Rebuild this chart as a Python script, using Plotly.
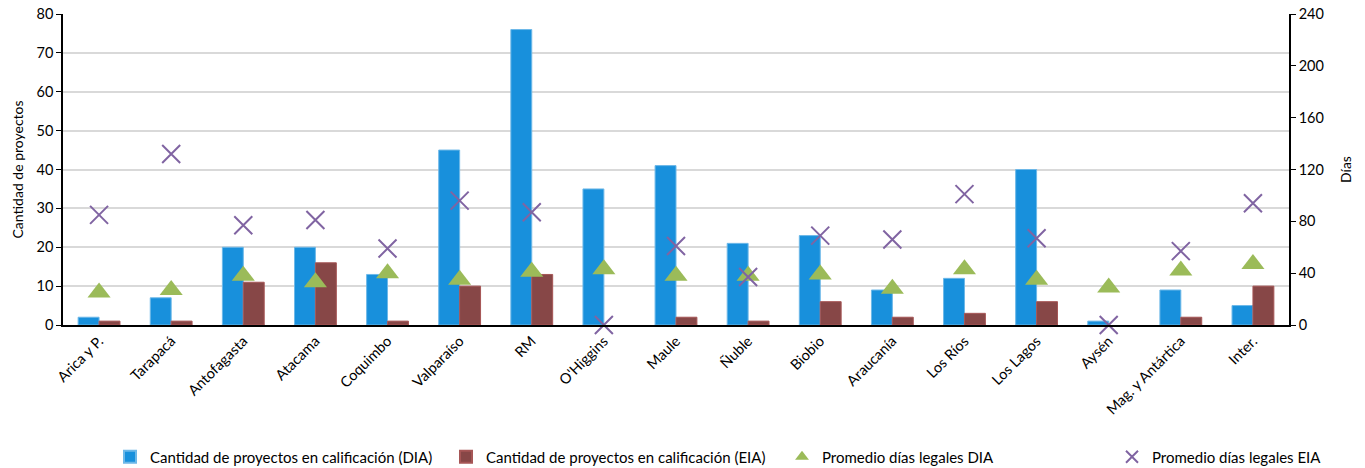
import plotly.graph_objects as go

regiones = ["Arica y P.", "Tarapacá", "Antofagasta", "Atacama", "Coquimbo", "Valparaíso",
            "RM", "O'Higgins", "Maule", "Ñuble", "Biobio", "Araucanía", "Los Ríos",
            "Los Lagos", "Aysén", "Mag. y Antártica", "Inter."]
proyectos_dia = [2, 7, 20, 20, 13, 45, 76, 35, 41, 21, 23, 9, 12, 40, 1, 9, 5]
proyectos_eia = [1, 1, 11, 16, 1, 10, 13, 0, 2, 1, 6, 2, 3, 6, 0, 2, 10]
dias_dia = [25, 27, 38, 33, 40, 35, 41, 43, 38, 38, 39, 28, 43, 35, 29, 42, 47]
dias_eia = [85, 132, 77, 81, 59, 96, 87, 0, 61, 37, 69, 66, 101, 67, 0, 57, 94]

FONT = "Lato, Noto Sans, sans-serif"


def outline_widths(values):
    # no outline on empty bars so they stay invisible
    return [1 if v > 0 else 0 for v in values]


fig = go.Figure()
fig.add_trace(go.Bar(
    x=regiones, y=proyectos_dia, name="Cantidad de proyectos en calificación (DIA)",
    marker=dict(color="#1890DC",
                line=dict(color="#6DB8E8", width=outline_widths(proyectos_dia))),
    legend="legend",
))
fig.add_trace(go.Bar(
    x=regiones, y=proyectos_eia, name="Cantidad de proyectos en calificación (EIA)",
    marker=dict(color="#874747",
                line=dict(color="#A65656", width=outline_widths(proyectos_eia))),
    legend="legend2",
))
fig.add_trace(go.Scatter(
    x=regiones, y=dias_dia, name="Promedio días legales DIA", yaxis="y2",
    mode="markers", cliponaxis=False,
    marker=dict(symbol="triangle-up", size=20, color="#9BBB59"),
    legend="legend3",
))
fig.add_trace(go.Scatter(
    x=regiones, y=dias_eia, name="Promedio días legales EIA", yaxis="y2",
    mode="markers", cliponaxis=False,
    marker=dict(symbol="x-thin-open", size=18, color="#8064A2",
                line=dict(color="#8064A2", width=2)),
    legend="legend4",
))

# one legend box per series, spread along the bottom of the page
W, H = 1365, 468
legend_left_px = [110, 446, 782, 1112]
legend_style = dict(orientation="h", xref="container", yref="container",
                    y=1 - 457 / H, yanchor="middle", xanchor="left",
                    font=dict(size=15), itemsizing="constant", itemwidth=30,
                    bgcolor="rgba(0,0,0,0)")
legends = {}
for i, px in enumerate(legend_left_px):
    key = "legend" if i == 0 else f"legend{i + 1}"
    legends[key] = dict(legend_style, x=px / W)

fig.update_layout(
    width=W, height=H,
    margin=dict(l=63, r=76, t=14, b=143),
    paper_bgcolor="white", plot_bgcolor="white",
    font=dict(family=FONT, size=14, color="black"),
    barmode="group", bargap=0.42, bargroupgap=0,
    showlegend=True,
    **legends,
    xaxis=dict(
        type="category", range=[-0.5, 16.5], tickangle=-45, showline=True,
        linecolor="black", linewidth=2, showgrid=False, ticks="",
        tickfont=dict(size=14.5), automargin=False,
    ),
    yaxis=dict(
        range=[0, 80], dtick=10, showline=True, linecolor="black", linewidth=1.5,
        ticks="outside", ticklen=5, tickcolor="black", tickfont=dict(size=14.5),
        showgrid=True, gridcolor="#D9D9D9", gridwidth=1.5, zeroline=False,
        automargin=False,
        title=dict(text="Cantidad de proyectos", font=dict(size=14), standoff=10),
    ),
    yaxis2=dict(
        range=[0, 240], dtick=40, overlaying="y", side="right", showline=True,
        linecolor="black", linewidth=1.5, ticks="outside", ticklen=5, tickcolor="black",
        tickfont=dict(size=14.5), showgrid=False, zeroline=False, automargin=False,
        title=dict(text="Días", font=dict(size=14), standoff=18),
    ),
)

fig.write_html("out.html")
